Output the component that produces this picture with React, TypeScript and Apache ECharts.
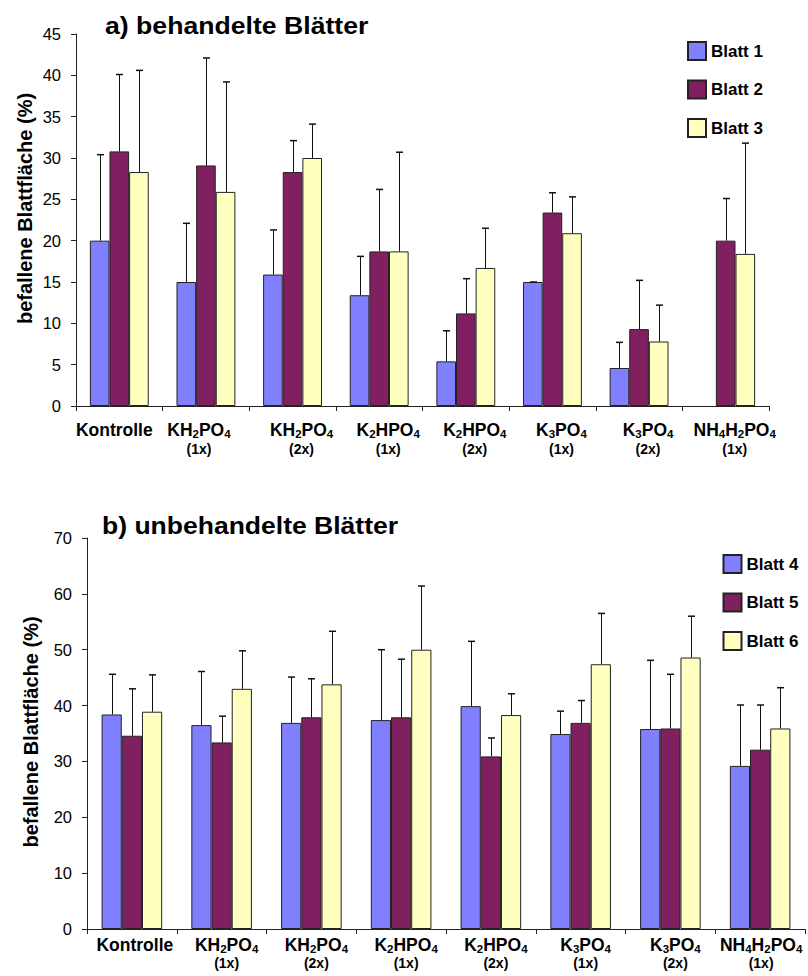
import React, { useEffect, useRef } from 'react';
import * as echarts from 'echarts';

// ---------- data ----------
const categories = ['Kontrolle', 'KH2PO4', 'KH2PO4', 'K2HPO4', 'K2HPO4', 'K3PO4', 'K3PO4', 'NH4H2PO4'];
const doses = ['', '(1x)', '(2x)', '(1x)', '(2x)', '(1x)', '(2x)', '(1x)'];

const treatedNames = ['Blatt 1', 'Blatt 2', 'Blatt 3'];
const blatt1 = [20.0, 15.0, 15.9, 13.4, 5.4, 15.0, 4.6, null];
const blatt2 = [30.8, 29.1, 28.3, 18.7, 11.2, 23.4, 9.3, 20.0];
const blatt3 = [28.3, 25.9, 30.0, 18.7, 16.7, 20.9, 7.8, 18.4];
const sd1 = [10.4, 7.1, 5.4, 4.7, 3.7, 0, 3.1, null];
const sd2 = [9.3, 13.0, 3.8, 7.5, 4.2, 2.4, 5.9, 5.1];
const sd3 = [12.3, 13.3, 4.1, 12.0, 4.8, 4.4, 4.4, 13.4];

const untreatedNames = ['Blatt 4', 'Blatt 5', 'Blatt 6'];
const blatt4 = [38.4, 36.5, 36.9, 37.4, 39.9, 34.9, 35.8, 29.2];
const blatt5 = [34.6, 33.4, 37.9, 37.9, 30.9, 36.9, 35.9, 32.1];
const blatt6 = [38.9, 43.0, 43.8, 50.0, 38.3, 47.4, 48.6, 35.9];
const sd4 = [7.2, 9.6, 8.2, 12.6, 11.6, 4.1, 12.3, 10.9];
const sd5 = [8.4, 4.7, 6.9, 10.4, 3.3, 4.0, 9.7, 8.0];
const sd6 = [6.6, 6.8, 9.5, 11.4, 3.8, 9.1, 7.4, 7.3];

const titleTop = 'a) behandelte Blätter';
const titleBottom = 'b) unbehandelte Blätter';
const yTitle = 'befallene Blattfläche (%)';

// ---------- styles ----------
const FONT = '"Liberation Sans", Arial, Helvetica, sans-serif';
const COLORS = ['#8080ff', '#802060', '#ffffc0'];
const GAP_TOP = 0.32;
const GAP_BOT = 0.325;
const labelOffsetsTop = [-5, -7, 9, 9, 9, 9, 9, 9];
const labelOffsetsBot = [3, 5, 5, 5, 5, 5, 5, 1];

function buildRich(offsets: number[]) {
  const rich: any = {
    m: { fontSize: 17.5, fontWeight: 'bold', fontFamily: FONT, color: '#000', lineHeight: 20 },
    s: { fontSize: 11.5, fontWeight: 'bold', fontFamily: FONT, color: '#000', lineHeight: 10, verticalAlign: 'bottom' },
    n: { fontSize: 14, fontWeight: 'bold', fontFamily: FONT, color: '#000', lineHeight: 17 },
  };
  offsets.forEach((o) => {
    const w = Math.abs(o) * 2;
    if (w > 0) rich['p' + w] = { width: w, fontSize: 8, lineHeight: 8 };
  });
  return rich;
}

function labelFormatter(offsets: number[]) {
  return (value: string, index: number) => {
    const main = value.replace(/(\D+)|(\d+)/g, (_m: string, a: string, d: string) =>
      a ? `{m|${a}}` : `{s|${d}}`
    );
    const off = offsets[index] || 0;
    const w = Math.abs(off) * 2;
    const pre = off > 0 ? `{p${w}| }` : '';
    const post = off < 0 ? `{p${w}| }` : '';
    let txt = pre + main + post;
    if (doses[index]) txt += '\n' + pre + `{n|${doses[index]}}` + post;
    return txt;
  };
}

function barSeries(name: string, data: (number | null)[], color: string, gi: number, gap: number) {
  return {
    type: 'bar',
    name,
    xAxisIndex: gi,
    yAxisIndex: gi,
    data: data.map((v) => (v == null ? '-' : v)),
    barGap: '0%',
    barCategoryGap: gap * 100 + '%',
    itemStyle: { color, borderColor: '#222', borderWidth: 1 },
    z: 2,
  };
}

function errSeries(values: (number | null)[], sds: (number | null)[], idx: number, gi: number, gap: number) {
  const data: number[][] = [];
  values.forEach((v, i) => {
    if (v != null && sds[i] != null) data.push([i, v, sds[i] as number]);
  });
  return {
    type: 'custom',
    name: 'err' + gi + idx,
    xAxisIndex: gi,
    yAxisIndex: gi,
    silent: true,
    z: 5,
    data,
    renderItem: (_p: any, api: any) => {
      const ci = api.value(0);
      const v = api.value(1);
      const sd = api.value(2);
      const band = api.size([1, 0])[0];
      const groupW = band * (1 - gap);
      const bw = groupW / 3;
      const base = api.coord([ci, v]);
      const top = api.coord([ci, v + sd]);
      const x = Math.round(base[0] - groupW / 2 + bw * (idx + 0.5)) + 0.5;
      return {
        type: 'group',
        children: [
          { type: 'line', shape: { x1: x, y1: base[1], x2: x, y2: top[1] }, style: { stroke: '#111', lineWidth: 1 } },
          { type: 'line', shape: { x1: x - 3.5, y1: top[1], x2: x + 3.5, y2: top[1] }, style: { stroke: '#111', lineWidth: 1.5 } },
        ],
      };
    },
  };
}

function yAxis(gi: number, max: number, interval: number) {
  return {
    type: 'value',
    gridIndex: gi,
    min: 0,
    max,
    interval,
    axisLine: { show: true, lineStyle: { color: '#222', width: 1 } },
    axisTick: { show: true, length: 5, lineStyle: { color: '#222' } },
    splitLine: { show: false },
    axisLabel: { fontSize: 16.5, fontFamily: FONT, color: '#000', margin: 15 },
  };
}

function xAxis(gi: number, offsets: number[], margin: number) {
  return {
    type: 'category',
    gridIndex: gi,
    data: categories,
    axisLine: { show: true, lineStyle: { color: '#222', width: 1 } },
    axisTick: { show: true, length: 5, lineStyle: { color: '#222' } },
    axisLabel: {
      interval: 0,
      margin,
      formatter: labelFormatter(offsets),
      rich: buildRich(offsets),
      color: '#000',
      fontFamily: FONT,
    },
  };
}

function legend(names: string[], left: number, top: number) {
  return {
    data: names,
    orient: 'vertical',
    left,
    top,
    padding: 0,
    itemWidth: 18,
    itemHeight: 18,
    itemGap: 18.5,
    icon: 'rect',
    selectedMode: false,
    textStyle: { fontSize: 17, fontWeight: 'bold', fontFamily: FONT, color: '#000', lineHeight: 18 },
  };
}

function textEl(text: string, x: number, y: number, size: number, scaleX: number, rotation = 0, align = 'left') {
  return {
    type: 'text',
    x,
    y,
    scaleX,
    rotation,
    silent: true,
    style: {
      text,
      fontSize: size,
      fontWeight: 'bold',
      fontFamily: FONT,
      fill: '#000',
      textAlign: align,
      textVerticalAlign: 'middle',
    },
  };
}

export default function App() {
  const ref = useRef<HTMLDivElement>(null);
  useEffect(() => {
    if (!ref.current) return;
    const chart = echarts.init(ref.current, undefined, { renderer: 'svg' });
    const topVals = [blatt1, blatt2, blatt3];
    const topSds = [sd1, sd2, sd3];
    const botVals = [blatt4, blatt5, blatt6];
    const botSds = [sd4, sd5, sd6];
    const series: any[] = [];
    topVals.forEach((d, i) => series.push(barSeries(treatedNames[i], d, COLORS[i], 0, GAP_TOP)));
    botVals.forEach((d, i) => series.push(barSeries(untreatedNames[i], d, COLORS[i], 1, GAP_BOT)));
    topVals.forEach((d, i) => series.push(errSeries(d, topSds[i], i, 0, GAP_TOP)));
    botVals.forEach((d, i) => series.push(errSeries(d, botSds[i], i, 1, GAP_BOT)));

    chart.setOption({
      animation: false,
      backgroundColor: '#fff',
      grid: [
        { left: 76, top: 34, width: 693, height: 372 },
        { left: 87, top: 538, width: 718, height: 391 },
      ],
      xAxis: [xAxis(0, labelOffsetsTop, 14), xAxis(1, labelOffsetsBot, 5.5)],
      yAxis: [yAxis(0, 45, 5), yAxis(1, 70, 10)],
      legend: [legend(treatedNames, 687, 41), legend(untreatedNames, 722.5, 554)],
      graphic: [
        textEl(titleTop, 105, 25, 24, 1.11),
        textEl(titleBottom, 102, 525.5, 24, 1.105),
        textEl(yTitle, 25, 208.5, 20, 1, Math.PI / 2, 'center'),
        textEl(yTitle, 31, 732, 20, 1, Math.PI / 2, 'center'),
      ],
      series,
    });
    return () => chart.dispose();
  }, []);
  return (
    <div
      ref={ref}
      style={{ position: 'absolute', left: 0, top: 0, width: 808, height: 976, background: '#fff' }}
    />
  );
}
